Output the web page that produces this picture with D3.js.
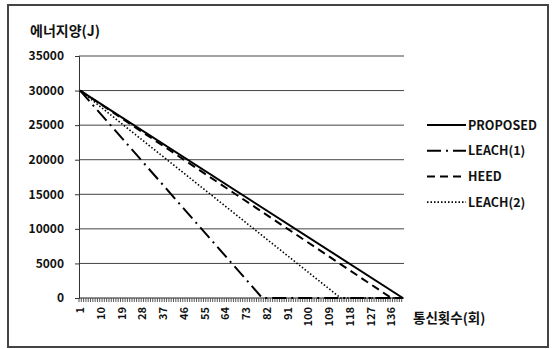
<!DOCTYPE html>
<html><head><meta charset="utf-8">
<script src="https://cdn.jsdelivr.net/npm/d3@7"></script>
<style>body{margin:0;background:#fff}svg{display:block}text{font-family:"Noto Sans CJK KR","Noto Sans",sans-serif;font-weight:bold;fill:#111}</style>
</head><body><svg id="c" width="553" height="349"></svg>
<script>
const roundCount = 141;
const categories = d3.range(1, roundCount + 1);
const tickLabels = ["1","10","19","28","37","46","55","64","73","82","91","100","109","118","127","136"];
const yTicks = [0,5000,10000,15000,20000,25000,30000,35000];
const seriesNames = ["PROPOSED","LEACH(1)","HEED","LEACH(2)"];
const proposed = [[1,30000],[141,0]];
const leach1 = [[1,30000],[80,0],[141,0]];
const heed = [[1,30000],[136,0],[141,0]];
const leach2 = [[1,30000],[114,0],[141,0]];
const seriesData = [proposed, leach1, heed, leach2];
const dashes = [null, "14,5,2,5", "8,5", "1.5,2"];
const widths = [2, 2, 2, 1.6];

const svg = d3.select("#c");
const L = 79, R = 404, T = 56, B = 298;
const xb = d3.scaleBand().domain(categories).range([L, R]);
const x = d => xb(d) + xb.bandwidth() / 2;
const y = d3.scaleLinear().domain([0, 35000]).range([B, T]);

// frame
svg.append("rect").attr("x", 8).attr("y", 5).attr("width", 540).attr("height", 342)
  .attr("fill", "none").attr("stroke", "#444").attr("stroke-width", 2);

// gridlines
svg.append("g").selectAll("line").data(yTicks.filter(v => v > 0)).join("line")
  .attr("x1", L).attr("x2", R).attr("y1", d => y(d)).attr("y2", d => y(d))
  .attr("stroke", "#444").attr("stroke-width", 1);

// y axis
const ya = svg.append("g").attr("transform", `translate(${L},0)`)
  .call(d3.axisLeft(y).tickValues(yTicks).tickSize(4).tickPadding(11).tickFormat(d3.format("d")));
ya.select(".domain").attr("stroke", "#333");
ya.selectAll("line").attr("stroke", "#333");
ya.selectAll("text").style("font-size", "12px").attr("fill", "#111");

// x axis line + ticks
svg.append("line").attr("x1", L).attr("x2", R).attr("y1", B).attr("y2", B).attr("stroke", "#222").attr("stroke-width", 1.2);
svg.append("g").selectAll("line").data(categories).join("line")
  .attr("x1", d => xb(d)).attr("x2", d => xb(d)).attr("y1", B).attr("y2", B + 4)
  .attr("stroke", "#444").attr("stroke-width", 0.9);
svg.append("g").selectAll("text").data(tickLabels).join("text")
  .attr("transform", d => `translate(${x(+d) + 4},${B + 9}) rotate(-90)`)
  .attr("text-anchor", "end").style("font-size", "11px").text(d => d);

// lines
const line = d3.line().x(d => x(d[0])).y(d => y(d[1]));
svg.append("g").selectAll("path").data(seriesData).join("path")
  .attr("d", line).attr("fill", "none").attr("stroke", "#000")
  .attr("stroke-width", (d, i) => widths[i])
  .attr("stroke-dasharray", (d, i) => dashes[i]);

// titles
svg.append("text").attr("x", 30).attr("y", 36).style("font-size", "14px").text("에너지양(J)");
svg.append("text").attr("x", 413).attr("y", 323).style("font-size", "13.5px").text("통신횟수(회)");

// legend
const lg = svg.append("g").selectAll("g").data(seriesNames).join("g")
  .attr("transform", (d, i) => `translate(427,${125 + i * 25.7})`);
lg.append("line").attr("x1", 0).attr("x2", 39).attr("y1", 0).attr("y2", 0)
  .attr("stroke", "#000").attr("stroke-width", (d, i) => widths[i])
  .attr("stroke-dasharray", (d, i) => dashes[i]);
lg.append("text").attr("x", 41).attr("y", 4.5).style("font-size", "12.5px").text(d => d);
</script></body></html>
